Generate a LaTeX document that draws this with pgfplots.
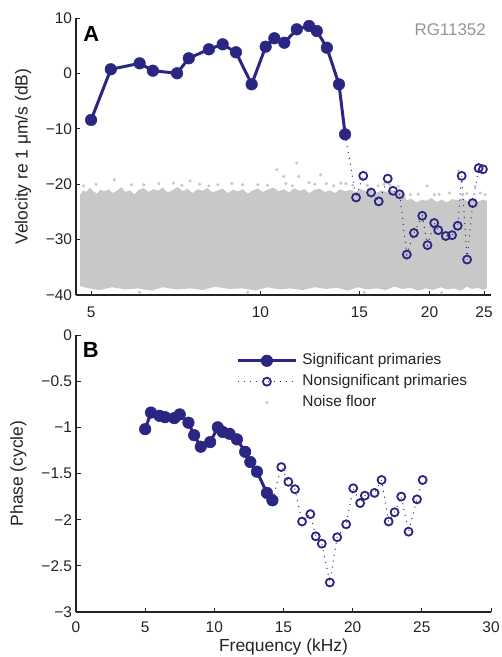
\documentclass[border=0pt]{standalone}
\usepackage{fontspec}
\setmainfont{Liberation Sans}
\usepackage{pgfplots}
\pgfplotsset{compat=1.18}
\definecolor{sig}{RGB}{43,38,130}
\definecolor{noise}{RGB}{200,200,200}
\definecolor{rg}{RGB}{150,150,150}
\definecolor{axc}{RGB}{35,35,35}
\pgfplotsset{
  myaxis/.style={
    scale only axis, width=415bp, height=277bp,
    axis x line*=bottom, axis y line*=left,
    axis line style={-, line width=1.1bp, axc},
    tick style={line width=0.9bp, axc},
    tick align=inside, major tick length=4.5bp,
    ticklabel style={font=\fontsize{15.5}{18}\selectfont, text=axc},
    label style={font=\fontsize{17.5}{20}\selectfont, text=axc},
    yticklabel style={anchor=east, xshift=-0.5bp},
  },
  sigstyle/.style={sig, line width=3bp, mark=*, mark size=5.8bp, mark options={solid, fill=sig, draw=sig, line width=0.5bp}},
  nsstyle/.style={sig, line width=1bp, dash pattern=on 1bp off 5bp, mark=o, mark size=4bp, mark options={solid, draw=sig, fill=white, line width=1.8bp}},
  noisestyle/.style={only marks, mark=*, mark size=1.4bp, mark options={draw=noise, fill=noise}},
}
\begin{document}
\begin{tikzpicture}
\path[use as bounding box] (0,0) rectangle (502bp,-657bp);
% ---------------- Panel A ----------------
\begin{axis}[myaxis, at={(76bp,-295bp)}, anchor=south west,
  xmode=log, xmin=4.7, xmax=25.72, ymin=-40, ymax=10,
  xtick={5,10,15,20,25}, xticklabels={5,10,15,20,25}, minor xtick={},
  ytick={-40,-30,-20,-10,0,10}, yticklabels={−40,−30,−20,−10,0,10},
  xticklabel style={anchor=base, yshift=-22.5bp},
  ylabel={Velocity re 1 μm/s (dB)},
  ylabel style={at={(axis description cs:-0.1277,0.5)}, anchor=center},
]
% noise floor envelope
\addplot[fill=noise, draw=none, forget plot] coordinates {
(4.78,-21.9) (4.84,-21.1) (4.9,-21.4) (4.97,-20.6) (5.05,-21.3) (5.12,-21.7) (5.2,-21.0) (5.28,-21.3) (5.37,-20.9) (5.46,-21.6) (5.55,-21.2) (5.66,-20.5) (5.75,-21.4) (5.86,-21.1) (5.97,-21.8) (6.08,-21.0) (6.2,-20.7) (6.33,-21.4) (6.45,-20.9) (6.58,-21.2) (6.7,-20.6) (6.85,-21.5) (7.0,-21.0) (7.13,-20.5) (7.28,-21.3) (7.42,-20.8) (7.57,-21.6) (7.74,-20.9) (7.9,-21.2) (8.05,-20.7) (8.22,-21.5) (8.4,-21.1) (8.57,-20.8) (8.75,-21.6) (8.94,-21.0) (9.12,-21.3) (9.3,-20.9) (9.5,-21.7) (9.7,-21.1) (9.9,-20.8) (10.1,-21.4) (10.3,-21.0) (10.55,-20.6) (10.78,-21.3) (11.0,-20.9) (11.25,-21.5) (11.48,-20.7) (11.72,-21.2) (11.97,-20.9) (12.22,-21.6) (12.48,-21.0) (12.75,-20.8) (13.02,-21.4) (13.3,-21.1) (13.58,-21.6) (13.86,-20.9) (14.15,-21.3) (14.45,-21.0) (14.76,-21.5) (15.07,-20.9) (15.4,-21.3) (15.72,-21.0) (16.05,-21.6) (16.4,-21.1) (16.75,-21.4) (17.1,-21.0) (17.47,-21.6) (17.8,-21.2) (18.05,-21.8) (18.2,-22.9) (18.55,-22.6) (18.95,-23.3) (19.35,-22.8) (19.75,-23.0) (20.15,-22.5) (20.6,-23.2) (21.02,-22.8) (21.48,-23.3) (21.92,-22.7) (22.38,-22.9) (22.86,-22.5) (23.34,-23.1) (23.82,-22.7) (24.33,-23.2) (24.84,-22.8) (25.28,-23.0)
(25.28,-38.8) (24.9,-39.1) (24.4,-38.7) (23.8,-38.9) (23.3,-38.5) (22.7,-39.2) (22.1,-38.8) (21.5,-39.0) (20.9,-38.6) (20.3,-39.1) (19.7,-38.8) (19.1,-39.2) (18.5,-38.7) (17.9,-38.9) (17.3,-38.5) (16.7,-39.1) (16.1,-38.8) (15.5,-39.0) (14.9,-38.6) (14.3,-39.2) (13.7,-38.7) (13.1,-38.9) (12.5,-38.6) (11.9,-39.1) (11.3,-38.8) (10.8,-39.0) (10.3,-38.6) (9.8,-39.2) (9.3,-38.8) (8.8,-38.9) (8.3,-38.5) (7.9,-39.1) (7.5,-38.8) (7.1,-39.0) (6.7,-38.6) (6.4,-39.2) (6.05,-38.8) (5.75,-39.0) (5.45,-38.6) (5.18,-39.1) (4.95,-38.8) (4.78,-38.4)
} -- cycle;
% noise floor outliers
\addplot[noisestyle, forget plot] coordinates {
(5.5,-19.2) (6.2,-20.1) (6.6,-19.9) (7.0,-19.8) (7.5,-19.4) (7.8,-20.0) (8.4,-20.1) (10.7,-17.4) (11.0,-18.6) (11.1,-19.9) (11.6,-16.2) (11.7,-18.6) (12.2,-19.7) (12.8,-18.3) (13.1,-19.9) (19.8,-20.3) (22.5,-17.6) (24.1,-20.4) (5.1,-20.0) (9.3,-20.1) (14.6,-20.2) (16.2,-20.3) (17.0,-20.1) (18.5,-21.9) (20.8,-21.8) (23.3,-21.7) (21.7,-21.6) (15.5,-20.2) (9.9,-20.1) (6.1,-39.5) (9.5,-39.5) (15.3,-39.5) (21.0,-39.6) (5.9,-20.1) (8.9,-19.9) (13.9,-19.8) (16.6,-20.0) (20.4,-21.9) (24.6,-21.6) (4.85,-20.3) (7.25,-20.2) (10.3,-20.2) (12.5,-20.0) (14.2,-19.9) (17.6,-20.4) (19.1,-21.8) (22.9,-21.9) (25.1,-21.9) (8.1,-20.3) (11.4,-20.3) (13.5,-20.3)
};
% nonsignificant primaries
\addplot[nsstyle, forget plot] coordinates {
(14.15,-11.0) (14.80,-22.4) (15.24,-18.5) (15.74,-21.5) (16.24,-23.1) (16.85,-19.0) (17.22,-21.2) (17.69,-21.8) (18.22,-32.7) (18.76,-28.8) (19.41,-25.7) (19.83,-31.0) (20.38,-27.0) (20.72,-28.3) (21.37,-29.35) (21.93,-29.2) (22.44,-27.5) (22.81,-18.5) (23.32,-33.6) (23.86,-23.4) (24.45,-17.1) (24.88,-17.3)
};
% significant primaries
\addplot[sigstyle, forget plot] coordinates {
(5.0,-8.4) (5.42,0.74) (6.10,1.82) (6.44,0.49) (7.11,0.02) (7.46,2.73) (8.10,4.35) (8.57,5.25) (9.05,3.81) (9.65,-1.97) (10.22,4.82) (10.59,6.34) (11.03,5.54) (11.61,7.96) (12.21,8.56) (12.60,7.65) (13.13,4.64) (13.80,-1.97) (14.15,-11.0)
};
\node[anchor=base west, font=\fontsize{22}{24}\bfseries, text=black, inner sep=0pt] at (rel axis cs:0.017,0.914) {A};
\node[anchor=base east, font=\fontsize{17}{20}\selectfont, text=rg, inner sep=0pt] at (rel axis cs:0.988,0.9386) {RG11352};
\end{axis}
% ---------------- Panel B ----------------
\begin{axis}[myaxis, at={(76bp,-612bp)}, anchor=south west,
  xmin=0, xmax=30, ymin=-3, ymax=0,
  xtick={0,5,10,15,20,25,30}, xticklabels={0,5,10,15,20,25,30},
  ytick={-3,-2.5,-2,-1.5,-1,-0.5,0}, yticklabels={−3,−2.5,−2,−1.5,−1,−0.5,0},
  xticklabel style={anchor=base, yshift=-20bp},
  xlabel={Frequency (kHz)},
  xlabel style={at={(axis description cs:0.5,-0.1408)}, anchor=base},
  ylabel={Phase (cycle)},
  ylabel style={at={(axis description cs:-0.1386,0.5)}, anchor=center},
  legend image code/.code={\draw[mark repeat=2,mark phase=2,#1] plot coordinates {(0bp,0bp) (29bp,0bp) (58bp,0bp)};},
  legend style={at={(rel axis cs:0.386,0.933)}, anchor=north west, draw=none, fill=none,
    font=\fontsize{15.5}{18}\selectfont, inner sep=0pt, column sep=5bp, row sep=6.9bp,
    nodes={inner sep=0pt, text height=11bp, text depth=3bp, text=axc}},
  legend cell align=left,
]
\addplot[nsstyle, forget plot] coordinates {
(14.2,-1.79) (14.84,-1.43) (15.35,-1.59) (15.83,-1.67) (16.34,-2.02) (16.94,-1.94) (17.33,-2.18) (17.77,-2.26) (18.35,-2.68) (18.88,-2.19) (19.53,-2.05) (20.04,-1.66) (20.54,-1.82) (20.88,-1.74) (21.58,-1.71) (22.09,-1.57) (22.6,-2.02) (23.03,-1.92) (23.51,-1.75) (24.04,-2.13) (24.65,-1.78) (25.06,-1.57)
};
\addplot[sigstyle, forget plot] coordinates {
(5.0,-1.02) (5.42,-0.84) (6.03,-0.875) (6.44,-0.89) (7.11,-0.90) (7.5,-0.86) (8.13,-0.95) (8.54,-1.085) (9.02,-1.21) (9.7,-1.16) (10.25,-1.00) (10.6,-1.05) (11.1,-1.07) (11.63,-1.13) (12.23,-1.265) (12.6,-1.375) (13.08,-1.48) (13.8,-1.71) (14.2,-1.79)
};
\addlegendimage{sigstyle}
\addlegendentry{Significant primaries}
\addlegendimage{nsstyle}
\addlegendentry{Nonsignificant primaries}
\addlegendimage{noisestyle}
\addlegendentry{Noise floor}
\node[anchor=base west, font=\fontsize{22}{24}\bfseries, text=black, inner sep=0pt] at (rel axis cs:0.016,0.917) {B};
\end{axis}
\end{tikzpicture}
\end{document}
